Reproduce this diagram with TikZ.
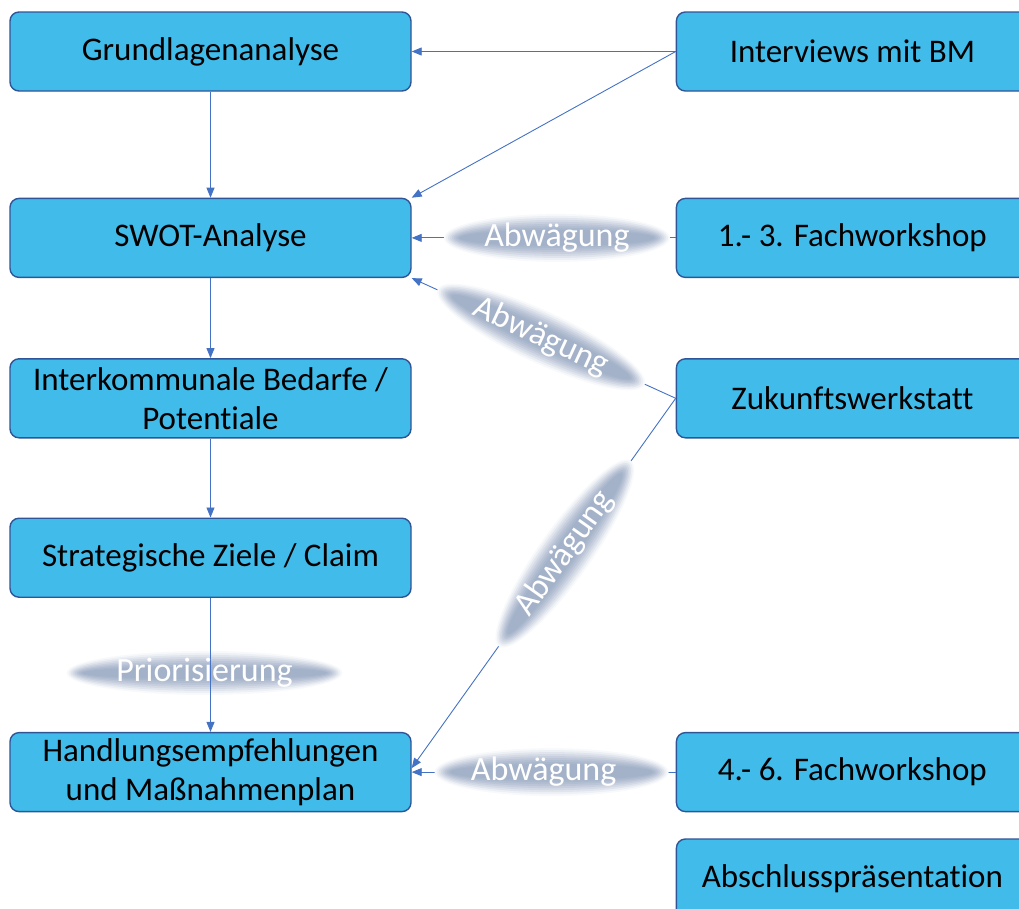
\documentclass[tikz,border=0pt]{standalone}
\usepackage{fontspec}
\setmainfont{Carlito}[Ligatures=NoCommon]
\usetikzlibrary{positioning,shapes.geometric,arrows.meta}

\definecolor{boxfill}{RGB}{65,187,233}
\definecolor{boxline}{RGB}{47,85,151}
\definecolor{linkc}{RGB}{68,114,196}
\definecolor{glowc}{RGB}{164,178,201}

\tikzset{
    box/.style={rectangle,rounded corners=9pt,draw=boxline,line width=1.4pt,fill=boxfill,
                minimum width=401pt,minimum height=79pt,align=center,text=black,
                font=\fontsize{33}{39}\selectfont},
    rbox/.style={box,minimum width=352pt},
    link/.style={draw=linkc,line width=0.9pt,-{Triangle[length=10pt,width=8pt]}},
    glowring/.style={ellipse,inner sep=0pt,draw=none},
    glowtext/.style={text=white,inner sep=0pt,font=\fontsize{34}{40}\selectfont}
}

% position, angle, length, height
\newcommand{\glowspot}[4]{%
    \foreach \gk/\gp in {0/8,2/20,4/34,6/48,8/62,10/75,12/86,14/94,16/100}
        \node[glowring,rotate=#2,fill=glowc!\gp!white,
              minimum width={(#3-2*\gk)*1pt},minimum height={(#4-2*\gk)*1pt}] at (#1) {};
}

\begin{document}
\begin{tikzpicture}[x=1pt,y=1pt]
    \useasboundingbox (0,0) rectangle (1019,-908);
    % linke Spalte
    \node (gl)     [box] at (210.5,-51.5)       {Grundlagenanalyse};
    \node (swot)   [box,below=106pt of gl]      {SWOT-Analyse};
    \node (bedarf) [box,below=80pt of swot]     {Interkommunale Bedarfe /\\Potentiale};
    \node (ziele)  [box,below=79pt of bedarf]   {Strategische Ziele / Claim};
    \node (mpl)    [box,below=134pt of ziele]   {Handlungsempfehlungen\\und Maßnahmenplan};
    % rechte Spalte
    \node (intv)   [rbox,right=264pt of gl]     {Interviews mit BM};
    \node (fws1)   [rbox,right=264pt of swot]   {1.- 3. Fachworkshop};
    \node (zwst)   [rbox,right=264pt of bedarf] {Zukunftswerkstatt};
    \node (fws2)   [rbox,right=264pt of mpl]    {4.- 6. Fachworkshop};
    \node (absch)  [rbox,below=26pt of fws2]    {Abschlusspräsentation};

    \draw[link] (gl) -- (swot);
    \draw[link] (swot) -- (bedarf);
    \draw[link] (bedarf) -- (ziele);
    \draw[link] (intv.west) -- (gl.east);
    \draw[link] (intv.west) -- (swot.north east);
    \draw[link] (fws1.west) -- coordinate[pos=0.45] (abw1) (swot.east);
    \draw[link] (zwst.west) -- coordinate[pos=0.51] (abw2) (swot.south east);
    \draw[link] (zwst.west) -- coordinate[pos=0.42] (abw3) ([yshift=4pt]mpl.east);
    \draw[link] (fws2.west) -- coordinate[pos=0.47] (abw4) (mpl.east);

    \glowspot{abw1}{0}{226}{48}
    \glowspot{abw2}{-24.8}{228}{52}
    \glowspot{abw3}{54.6}{228}{52}
    \glowspot{abw4}{0}{234}{48}
    \node (t1) [glowtext] at (abw1) {Abwägung};
    \node (t2) [glowtext,rotate=-24.8] at (abw2) {Abwägung};
    \node (t3) [glowtext,rotate=54.6] at (abw3) {Abwägung};
    \node (t4) [glowtext] at ([xshift=-8pt]abw4) {Abwägung};

    % Priorisierung: Linie liegt auf dem Schein
    \path (ziele) -- coordinate[pos=0.56] (prio) (mpl);
    \glowspot{[xshift=-6pt]prio}{0}{276}{44}
    \draw[link] (ziele) -- (mpl);
    \node (t5) [glowtext] at ([xshift=-6pt]prio) {Priorisierung};
\end{tikzpicture}
\end{document}
